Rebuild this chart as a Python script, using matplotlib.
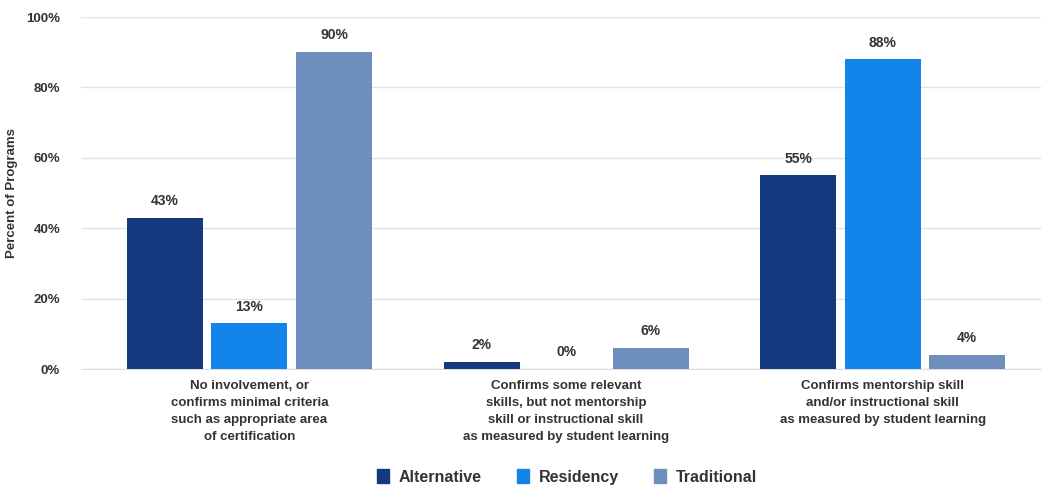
import matplotlib.pyplot as plt
import numpy as np
from matplotlib.patches import Patch

plt.rcParams["font.family"] = ["Liberation Sans", "DejaVu Sans"]
plt.rcParams["font.weight"] = "bold"

# %% Dane
kategorie = [
    "No involvement, or\nconfirms minimal criteria\nsuch as appropriate area\nof certification",
    "Confirms some relevant\nskills, but not mentorship\nskill or instructional skill\nas measured by student learning",
    "Confirms mentorship skill\nand/or instructional skill\nas measured by student learning",
]
serie = ["Alternative", "Residency", "Traditional"]
alternative = [43, 2, 55]
residency = [13, 0, 88]
traditional = [90, 6, 4]
kolory = ["#15397f", "#1384ea", "#6e8fbd"]
tekst = "#333333"

# %% Wykres
fig = plt.figure(figsize=(10.48, 5), dpi=100)
ax = fig.add_axes([81 / 1048, 131 / 500, 960 / 1048, 352 / 500])

x = np.arange(len(kategorie))
szer = 0.24
krok = 0.267
for i, (wart, kol) in enumerate(zip([alternative, residency, traditional], kolory)):
    slupki = ax.bar(x + (i - 1) * krok, wart, szer, color=kol, zorder=3)
    ax.bar_label(slupki, labels=[f"{v}%" for v in wart], padding=7,
                 fontsize=10, fontweight="bold", color=tekst)

ax.set_xlim(-0.532, 2.5)
ax.set_ylim(0, 100)
ax.set_yticks(np.arange(0, 101, 20))
ax.set_yticklabels([f"{v}%" for v in range(0, 101, 20)])
ax.set_xticks(x)
ax.set_xticklabels(kategorie, fontsize=9.8, color=tekst, linespacing=1.55)
ax.tick_params(axis="both", length=0, colors=tekst, labelsize=9.5)
ax.tick_params(axis="x", pad=8)
ax.tick_params(axis="y", pad=15)
ax.grid(axis="y", color="#e3e3e3", linewidth=1, zorder=0)
for s in ["top", "right", "left"]:
    ax.spines[s].set_visible(False)
ax.spines["bottom"].set_color("#dddddd")
ax.set_ylabel("Percent of Programs", fontsize=9.5, fontweight="bold", color=tekst)
ax.yaxis.set_label_coords(-63 / 960, 0.5)

uchwyty = [Patch(color=k, label=s) for s, k in zip(serie, kolory)]
fig.legend(handles=uchwyty, loc="center", bbox_to_anchor=(567 / 1048, 23 / 500),
           ncol=3, frameon=False, fontsize=11.5, handlelength=0.75,
           handleheight=0.9, handletextpad=0.6, columnspacing=2.2,
           labelcolor=tekst)

fig.savefig("out.png", dpi=100)
